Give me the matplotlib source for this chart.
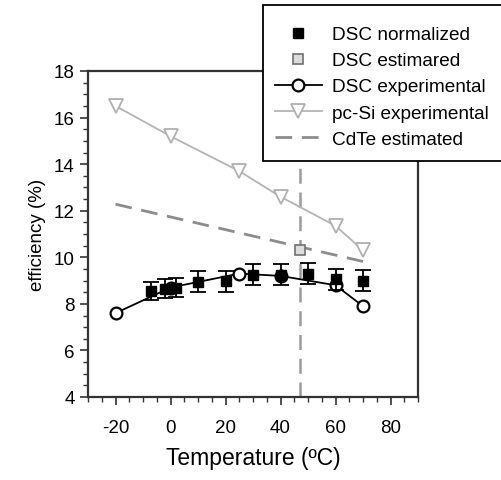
import matplotlib
matplotlib.use("Agg")
import matplotlib.pyplot as plt
from matplotlib.patches import Rectangle
from matplotlib.lines import Line2D

plt.rcParams['font.family'] = ['Liberation Sans', 'DejaVu Sans']
plt.rcParams['axes.unicode_minus'] = False

# DSC normalized (filled squares with error bars)
dsc_norm_T = [-7, -2, 2, 10, 20, 30, 40, 50, 60, 70]
dsc_norm_eff = [8.55, 8.65, 8.7, 8.95, 8.98, 9.25, 9.25, 9.3, 9.05, 9.0]
dsc_norm_err = [0.4, 0.4, 0.4, 0.45, 0.45, 0.45, 0.45, 0.45, 0.45, 0.45]

# DSC estimated (grey square)
dsc_est_T = [47]
dsc_est_eff = [10.3]

# DSC experimental (open circles)
dsc_exp_T = [-20, 0, 25, 40, 60, 70]
dsc_exp_eff = [7.6, 8.7, 9.3, 9.2, 8.8, 7.9]

# pc-Si experimental (open down-triangles)
pcsi_T = [-20, 0, 25, 40, 60, 70]
pcsi_eff = [16.5, 15.2, 13.7, 12.6, 11.35, 10.3]

# CdTe estimated (dashed)
cdte_T = [-20, 70]
cdte_eff = [12.28, 9.82]

# vertical reference line
vline_T = 47

fig = plt.figure(figsize=(5.02, 4.81), dpi=100)
ax = fig.add_axes([88/502, 1-398/481, (418-88)/502, (398-72)/481])

ax.axvline(vline_T, color='#9a9a9a', lw=1.8, ls=(0, (6, 3.5)), zorder=1)
ax.plot(cdte_T, cdte_eff, color='#8c8c8c', lw=2.0, ls=(0, (6, 3.5)), zorder=2)
ax.plot(pcsi_T, pcsi_eff, color='#b4b4b4', lw=1.3, marker='v', ms=10,
        mfc='white', mec='#b0b0b0', mew=1.3, zorder=3)
ax.plot(dsc_exp_T, dsc_exp_eff, color='black', lw=1.3, marker='o', ms=8.5,
        mfc='white', mec='black', mew=1.6, zorder=4)
ax.errorbar(dsc_norm_T, dsc_norm_eff, yerr=dsc_norm_err, fmt='s', color='black',
            ms=7.5, ecolor='black', elinewidth=1.3, capsize=5.5, capthick=1.3, zorder=5)
ax.plot(dsc_est_T, dsc_est_eff, ls='none', marker='s', ms=7, mfc='#dcdcdc',
        mec='#707070', mew=1.2, zorder=5)

ax.set_xlim(-30, 90)
ax.set_ylim(4, 18)
ax.set_xticks([-20, 0, 20, 40, 60, 80])
ax.set_xticks(range(-30, 91, 5), minor=True)
ax.set_yticks([4, 6, 8, 10, 12, 14, 16, 18])
ax.set_yticks([4 + 0.5*i for i in range(29)], minor=True)
ax.tick_params(axis='both', which='major', direction='out', length=6, width=1.2,
               labelsize=13.5, color='#333333')
ax.tick_params(axis='both', which='minor', direction='out', length=3.5, width=1.0,
               color='#333333')
ax.tick_params(axis='x', which='major', pad=10)
ax.tick_params(top=False, right=False)
for s in ax.spines.values():
    s.set_linewidth(1.6)
    s.set_color('#333333')

ax.set_xlabel('Temperature (ºC)', fontsize=16.5, labelpad=7)
ax.set_ylabel('efficiency (%)', fontsize=13.5, labelpad=6)

# legend box
rect = Rectangle((263/502, 1-162/481), (520-263)/502, (162-6)/481,
                 transform=fig.transFigure, facecolor='white', edgecolor='black',
                 lw=1.3, zorder=10, clip_on=False)
fig.add_artist(rect)

handles = [
    Line2D([], [], ls='none', marker='s', ms=6.5, mfc='black', mec='black'),
    Line2D([], [], ls='none', marker='s', ms=6.5, mfc='#dcdcdc', mec='#707070', mew=1.2),
    Line2D([], [], color='black', lw=1.3, marker='o', ms=8.5, mfc='white', mec='black', mew=1.6),
    Line2D([], [], color='#b4b4b4', lw=1.3, marker='v', ms=10, mfc='white', mec='#b0b0b0', mew=1.3),
    Line2D([], [], color='#8c8c8c', lw=2.0, ls=(0, (6, 3.5))),
]
labels = ['DSC normalized', 'DSC estimared', 'DSC experimental',
          'pc-Si experimental', 'CdTe estimated']
leg = fig.legend(handles, labels, loc='upper left',
                 bbox_to_anchor=(275/502, 1-27/481), frameon=False,
                 fontsize=13.7, handlelength=2.45, handletextpad=0.55,
                 labelspacing=0.46, borderpad=0, borderaxespad=0)
leg.set_zorder(11)

fig.savefig('out.png', dpi=100)
